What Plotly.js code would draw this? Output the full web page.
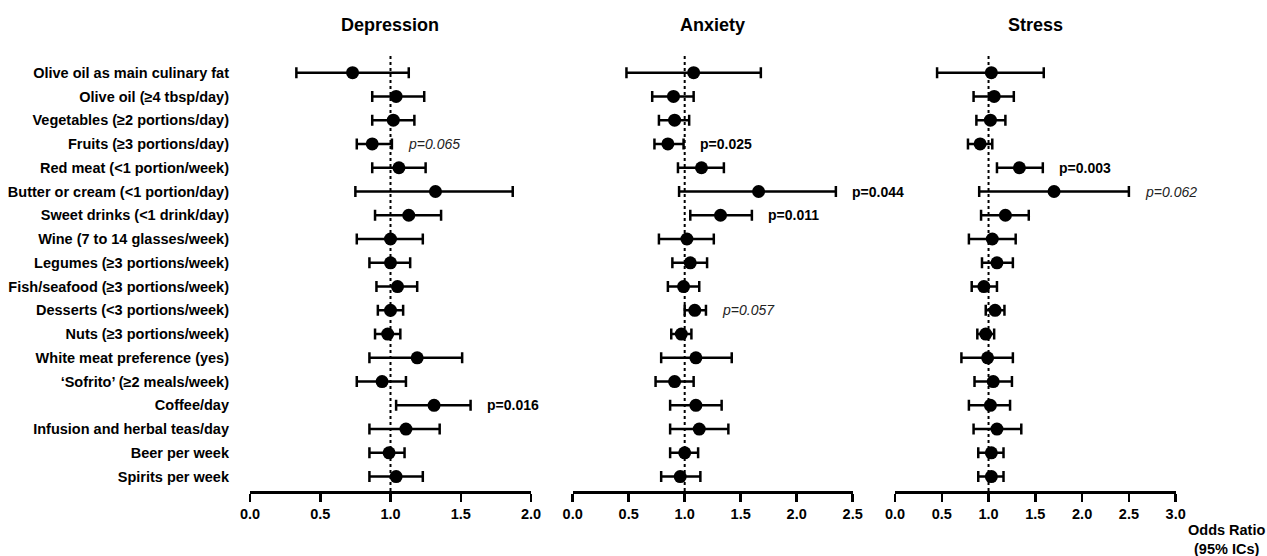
<!DOCTYPE html>
<html>
<head>
<meta charset="utf-8">
<script src="https://cdn.plot.ly/plotly-3.0.1.min.js"></script>
<style>html,body{margin:0;padding:0;background:#fff;}#chart{width:1267px;height:556px;}</style>
</head>
<body>
<div id="chart"></div>
<script>
const categories = [
  'Olive oil as main culinary fat',
  'Olive oil (≥4 tbsp/day)',
  'Vegetables (≥2 portions/day)',
  'Fruits (≥3 portions/day)',
  'Red meat (<1 portion/week)',
  'Butter or cream (<1 portion/day)',
  'Sweet drinks (<1 drink/day)',
  'Wine (7 to 14 glasses/week)',
  'Legumes (≥3 portions/week)',
  'Fish/seafood (≥3 portions/week)',
  'Desserts (<3 portions/week)',
  'Nuts (≥3 portions/week)',
  'White meat preference (yes)',
  '\u2018Sofrito\u2019 (≥2 meals/week)',
  'Coffee/day',
  'Infusion and herbal teas/day',
  'Beer per week',
  'Spirits per week'
];

const panelTitles = ['Depression', 'Anxiety', 'Stress'];
const axisMax = [2.0, 2.5, 3.0];
const tickStep = 0.5;
const refValue = 1.0;

const depOR = [0.73,1.04,1.02,0.87,1.06,1.32,1.13,1.00,1.00,1.05,1.00,0.98,1.19,0.94,1.31,1.11,0.99,1.04];
const depLo = [0.33,0.87,0.87,0.76,0.87,0.75,0.89,0.76,0.85,0.90,0.91,0.89,0.85,0.76,1.04,0.85,0.85,0.85];
const depHi = [1.13,1.24,1.17,1.01,1.25,1.87,1.36,1.23,1.14,1.19,1.09,1.07,1.51,1.11,1.57,1.35,1.10,1.23];

const anxOR = [1.08,0.90,0.91,0.85,1.15,1.66,1.32,1.02,1.05,0.99,1.09,0.97,1.10,0.91,1.10,1.13,1.00,0.96];
const anxLo = [0.48,0.71,0.77,0.73,0.94,0.95,1.05,0.77,0.89,0.85,1.00,0.88,0.79,0.74,0.87,0.87,0.87,0.79];
const anxHi = [1.68,1.08,1.04,0.99,1.35,2.35,1.60,1.26,1.20,1.13,1.19,1.06,1.42,1.08,1.33,1.39,1.12,1.14];

const strOR = [1.03,1.06,1.02,0.91,1.33,1.70,1.18,1.04,1.09,0.95,1.07,0.97,0.99,1.05,1.02,1.09,1.03,1.03];
const strLo = [0.45,0.84,0.87,0.78,1.09,0.90,0.92,0.79,0.93,0.82,0.97,0.88,0.71,0.85,0.79,0.84,0.89,0.89];
const strHi = [1.59,1.27,1.18,1.04,1.58,2.50,1.43,1.29,1.26,1.09,1.17,1.06,1.26,1.25,1.23,1.35,1.16,1.16];

// p-values shown next to selected rows (null = none)
const depP = [null,null,null,0.065,null,null,null,null,null,null,null,null,null,null,0.016,null,null,null];
const anxP = [null,null,null,0.025,null,0.044,0.011,null,null,null,0.057,null,null,null,null,null,null,null];
const strP = [null,null,null,null,0.003,0.062,null,null,null,null,null,null,null,null,null,null,null,null];

const FONT = 'Liberation Sans, Arial, Helvetica, sans-serif';
const panels = [
  {or: depOR, lo: depLo, hi: depHi, p: depP},
  {or: anxOR, lo: anxLo, hi: anxHi, p: anxP},
  {or: strOR, lo: strLo, hi: strHi, p: strP}
];
const domains = [[0, 0.2763], [0.3173, 0.5926], [0.6342, 0.9102]];

const traces = [];
const shapes = [];
const annotations = [];
const layout = {
  width: 1267, height: 556,
  margin: {l: 250, r: 0, t: 50, b: 65},
  paper_bgcolor: '#fff', plot_bgcolor: '#fff',
  showlegend: false,
  font: {family: FONT, color: '#000'},
  yaxis: {
    type: 'category',
    categoryorder: 'array', categoryarray: categories,
    range: [17.605, -0.955],
    showgrid: false, zeroline: false, showline: false,
    ticks: '', ticklabelstandoff: 20,
    tickfont: {family: FONT, size: 14.5, weight: 700, color: '#000'},
    fixedrange: true
  }
};

panels.forEach((pn, i) => {
  const xa = i === 0 ? 'x' : 'x' + (i + 1);
  const axKey = i === 0 ? 'xaxis' : 'xaxis' + (i + 1);
  traces.push({
    type: 'scatter', mode: 'markers',
    x: pn.or, y: categories,
    xaxis: xa, yaxis: 'y',
    marker: {color: '#000', size: 13, symbol: 'circle'},
    error_x: {
      type: 'data', symmetric: false,
      array: pn.hi.map((h, k) => h - pn.or[k]),
      arrayminus: pn.lo.map((l, k) => pn.or[k] - l),
      color: '#000', thickness: 2.5, width: 5.5
    },
    hoverinfo: 'skip', cliponaxis: false
  });
  const tv = [];
  for (let v = 0; v <= axisMax[i] + 1e-9; v += tickStep) tv.push(+v.toFixed(1));
  layout[axKey] = {
    domain: domains[i], anchor: 'y',
    range: [0, axisMax[i]],
    tickvals: tv, tickformat: '.1f',
    showgrid: false, zeroline: false,
    showline: true, linecolor: '#000', linewidth: 2.5,
    ticks: 'outside', ticklen: 8, tickwidth: 2.5, tickcolor: '#000',
    tickfont: {family: FONT, size: 14.5, weight: 700, color: '#000'},
    fixedrange: true
  };
  shapes.push({
    type: 'line', xref: xa, yref: 'paper',
    x0: refValue, x1: refValue, y0: 0, y1: 0.99,
    line: {color: '#000', width: 2, dash: 'dot'}, layer: 'below'
  });
  annotations.push({
    xref: xa + ' domain', yref: 'paper', x: 0.5, y: 1.057,
    text: panelTitles[i], showarrow: false,
    xanchor: 'center', yanchor: 'middle',
    font: {family: FONT, size: 18, weight: 700, color: '#000'}
  });
  pn.p.forEach((pv, k) => {
    if (pv === null) return;
    const sig = pv < 0.05;
    const txt = 'p=' + pv.toFixed(3);
    annotations.push({
      xref: xa, yref: 'y', x: pn.hi[k], y: categories[k],
      xshift: 14, xanchor: 'left', yanchor: 'middle',
      text: sig ? '<b>' + txt + '</b>' : '<i>' + txt + '</i>',
      showarrow: false,
      font: {family: FONT, size: 14, color: sig ? '#000' : '#222'}
    });
  });
});

annotations.push({
  xref: 'paper', yref: 'paper', x: 0.9597, y: -0.111,
  xanchor: 'center', yanchor: 'middle',
  text: '<b>Odds Ratio</b><br><b>(95% ICs)</b>', showarrow: false,
  font: {family: FONT, size: 14.5, color: '#000'}
});

layout.shapes = shapes;
layout.annotations = annotations;

Plotly.newPlot('chart', traces, layout, {displayModeBar: false, staticPlot: true});
</script>
</body>
</html>
